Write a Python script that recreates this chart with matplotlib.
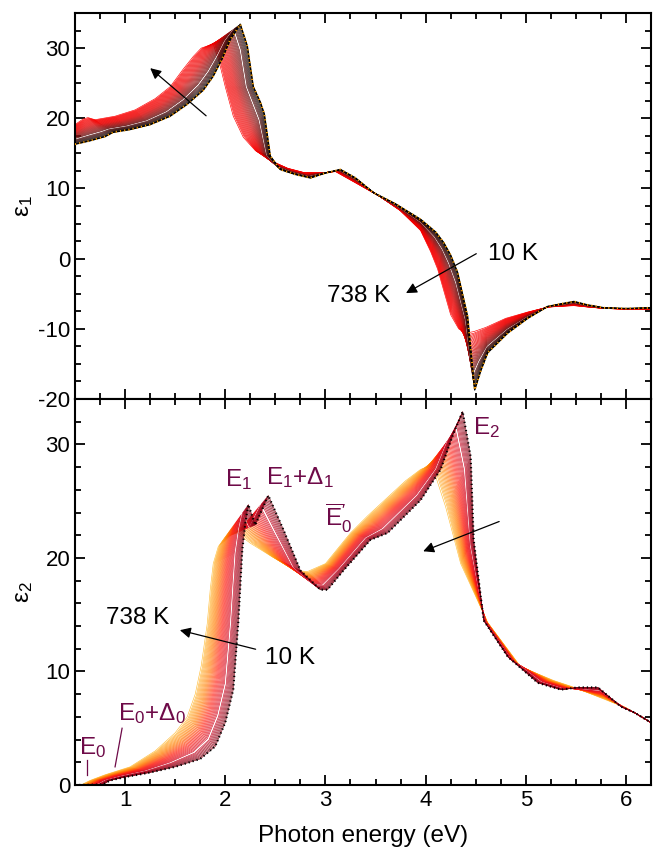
import numpy as np
import matplotlib
matplotlib.use('Agg')
import matplotlib.pyplot as plt
from matplotlib.colors import LinearSegmentedColormap
from matplotlib.ticker import MultipleLocator

plt.rcParams['font.family'] = ['Liberation Sans', 'DejaVu Sans']
plt.rcParams['mathtext.fontset'] = 'custom'
plt.rcParams['mathtext.rm'] = 'Liberation Sans'
plt.rcParams['mathtext.it'] = 'Liberation Sans:italic'
plt.rcParams['axes.unicode_minus'] = False

# temperatures (K)
temps = [10, 30, 50, 70, 90, 110, 130, 150, 170, 190, 210, 230, 250, 270, 290,
         310, 330, 350, 370, 390, 410, 430, 450, 470, 490, 510, 530, 550, 570,
         590, 610, 630, 650, 670, 690, 710, 738]

# eps1, 10 K  (matched feature points with the 738 K curve)
e1_E_10 = [0.50, 0.65, 0.80, 0.88, 1.05, 1.25, 1.45, 1.62, 1.78, 1.88, 1.97, 2.05,
           2.15, 2.22, 2.28, 2.35, 2.39, 2.45, 2.55, 2.70, 2.85, 3.00, 3.15, 3.30,
           3.48, 3.70, 3.95, 4.10, 4.18, 4.25, 4.32, 4.42, 4.49, 4.55, 4.62, 4.82,
           5.02, 5.22, 5.48, 5.62, 5.78, 6.00, 6.25]
e1_v_10 = [16.3, 16.8, 17.4, 18.0, 18.4, 19.1, 20.3, 22.0, 24.0, 26.0, 28.5, 31.2,
           33.4, 30.3, 24.5, 22.3, 20.6, 14.6, 12.7, 12.0, 11.5, 12.2, 12.7, 11.5,
           9.4, 7.8, 5.6, 3.8, 2.3, 0.5, -2.0, -8.3, -18.7, -16.0, -13.4, -10.6,
           -8.5, -6.8, -6.1, -6.6, -7.0, -7.1, -7.0]
# eps1, 738 K
e1_E_738 = [0.50, 0.58, 0.63, 0.70, 0.90, 1.10, 1.30, 1.45, 1.58, 1.68, 1.76, 1.82,
            1.88, 1.94, 2.00, 2.08, 2.18, 2.30, 2.45, 2.62, 2.78, 2.95, 3.10, 3.30,
            3.55, 3.75, 3.95, 4.05, 4.12, 4.18, 4.25, 4.33, 4.40, 4.48, 4.60, 4.80,
            5.02, 5.22, 5.48, 5.62, 5.78, 6.00, 6.25]
e1_v_738 = [19.1, 19.9, 20.1, 19.8, 20.3, 21.2, 22.8, 24.5, 27.0, 28.8, 30.0, 30.3,
            30.6, 28.0, 24.5, 20.3, 17.3, 15.4, 14.0, 12.9, 12.3, 12.2, 12.4, 10.8,
            8.8, 6.8, 4.0, 1.0, -1.5, -4.5, -8.0, -10.0, -10.6, -10.4, -9.8, -8.5,
            -7.6, -6.9, -6.7, -6.9, -7.1, -7.2, -7.2]

# eps2, 10 K
e2_E_10 = [0.50, 0.78, 0.85, 1.00, 1.25, 1.50, 1.75, 1.90, 2.00, 2.08, 2.13, 2.15,
           2.17, 2.20, 2.23, 2.30, 2.43, 2.58, 2.75, 2.95, 3.02, 3.18, 3.45, 3.62,
           3.95, 4.15, 4.28, 4.37, 4.45, 4.48, 4.58, 4.82, 5.12, 5.35, 5.52, 5.72,
           5.95, 6.08, 6.25]
e2_v_10 = [0.0, 0.05, 0.4, 0.7, 1.1, 1.6, 2.3, 3.4, 5.5, 8.4, 14.3, 17.5,
           20.7, 23.0, 24.7, 22.9, 25.5, 22.5, 18.9, 17.2, 17.2, 18.9, 21.6, 22.2,
           25.1, 27.8, 31.0, 32.9, 28.9, 21.6, 14.5, 11.3, 9.0, 8.4, 8.6, 8.6,
           6.9, 6.4, 5.5]
# eps2, 738 K
e2_E_738 = [0.50, 0.57, 0.65, 0.80, 1.05, 1.30, 1.50, 1.62, 1.70, 1.76, 1.82, 1.85,
            1.88, 1.93, 1.98, 2.05, 2.12, 2.25, 2.45, 2.70, 2.82, 3.00, 3.25, 3.42,
            3.80, 3.95, 4.02, 4.10, 4.20, 4.35, 4.62, 4.95, 5.28, 5.45, 5.60, 5.80,
            6.00, 6.10, 6.25]
e2_v_738 = [0.0, 0.05, 0.4, 0.9, 1.6, 3.0, 4.6, 6.0, 8.0, 10.5, 14.2, 17.2,
            19.5, 21.0, 21.6, 22.0, 22.2, 21.3, 20.2, 18.9, 18.8, 19.5, 22.2, 23.7,
            26.8, 27.8, 28.0, 27.2, 24.5, 19.5, 14.3, 10.4, 9.2, 8.7, 8.2, 7.5,
            6.8, 6.3, 5.5]

label_col = '#6e0a48'
fs = 17.5

cm1 = LinearSegmentedColormap.from_list('k2r', ['#000000', '#7a1010', '#e80000', '#ff0000'])
cm2 = LinearSegmentedColormap.from_list('r2o', ['#7a0012', '#d0102a', '#ff1a10', '#ff7a00', '#ffc040'])

fig = plt.figure(figsize=(6.55, 8.57), dpi=100)
ax1 = fig.add_axes([0.1145, 0.5344, 0.8794, 0.4504])
ax2 = fig.add_axes([0.1145, 0.0840, 0.8794, 0.4504])


def family(ax, E10, v10, E738, v738, cmap):
    E10, v10 = np.array(E10), np.array(v10)
    E738, v738 = np.array(E738), np.array(v738)
    for T in temps[::-1]:
        f = (T - temps[0]) / (temps[-1] - temps[0])
        x = E10 + f * (E738 - E10)
        y = v10 + f * (v738 - v10)
        c = 'white' if T == 190 else cmap(f)
        ax.plot(x, y, color=c, lw=0.45, zorder=2)


family(ax1, e1_E_10, e1_v_10, e1_E_738, e1_v_738, cm1)
ax1.plot(e1_E_10, e1_v_10, color='black', lw=1.0, zorder=3)
ax1.plot(e1_E_10, e1_v_10, color='#ffa000', lw=1.4, ls=(0, (0.6, 1.6)), zorder=4)

family(ax2, e2_E_10, e2_v_10, e2_E_738, e2_v_738, cm2)
ax2.plot(e2_E_10, e2_v_10, color='black', lw=1.5, ls=(0, (0.6, 1.4)), zorder=4)

for ax in (ax1, ax2):
    ax.set_xlim(0.5, 6.25)
    ax.xaxis.set_major_locator(MultipleLocator(1))
    ax.xaxis.set_minor_locator(MultipleLocator(0.25))
    ax.tick_params(which='both', direction='in', top=True, right=True, width=1.3,
                   labelsize=16)
    ax.tick_params(which='major', length=7)
    ax.tick_params(which='minor', length=4)
    for s in ax.spines.values():
        s.set_linewidth(1.5)
    ax.yaxis.set_label_coords(-0.07, 0.5)

ax1.set_ylim(-20, 35)
ax1.yaxis.set_major_locator(MultipleLocator(10))
ax1.yaxis.set_minor_locator(MultipleLocator(2.5))
ax1.tick_params(labelbottom=False)
ax1.set_ylabel('ε$_1$', fontsize=fs)

ax2.set_ylim(0, 34)
ax2.yaxis.set_major_locator(MultipleLocator(10))
ax2.yaxis.set_minor_locator(MultipleLocator(2))
ax2.set_ylabel('ε$_2$', fontsize=fs)
ax2.set_xlabel('Photon energy (eV)', fontsize=fs, labelpad=10)

arw = dict(arrowstyle='-|>', color='black', lw=0.9, mutation_scale=16)

# top panel annotations
ax1.annotate('', xy=(1.23, 27.4), xytext=(1.83, 20.1), arrowprops=arw, zorder=6)
ax1.annotate('', xy=(3.78, -5.1), xytext=(4.53, 0.9), arrowprops=arw, zorder=6)
ax1.text(4.62, 0.7, '10 K', fontsize=fs, va='center', ha='left')
ax1.text(3.65, -5.3, '738 K', fontsize=fs, va='center', ha='right')

# bottom panel annotations
ax2.annotate('', xy=(1.52, 13.7), xytext=(2.33, 11.9), arrowprops=arw, zorder=6)
ax2.annotate('', xy=(3.95, 20.5), xytext=(4.76, 23.3), arrowprops=arw, zorder=6)
ax2.text(1.13, 14.7, '738 K', fontsize=fs, va='center', ha='center')
ax2.text(2.65, 11.2, '10 K', fontsize=fs, va='center', ha='center')

ax2.text(2.13, 26.9, 'E$_1$', color=label_col, fontsize=fs, ha='center', va='center')
ax2.text(2.41, 27.1, 'E$_1$+Δ$_1$', color=label_col, fontsize=fs, ha='left', va='center')
ax2.text(3.13, 23.5, r"$\overline{\mathrm{E}}^{\prime}_{0}$", color=label_col, fontsize=fs,
         ha='center', va='center')
ax2.text(4.47, 31.5, 'E$_2$', color=label_col, fontsize=fs, ha='left', va='center')
ax2.text(0.68, 3.3, 'E$_0$', color=label_col, fontsize=fs, ha='center', va='center')
ax2.text(0.93, 6.3, 'E$_0$+Δ$_0$', color=label_col, fontsize=fs, ha='left', va='center')
ax2.plot([0.62, 0.62], [2.2, 0.9], color=label_col, lw=0.9, zorder=6)
ax2.plot([0.97, 0.90], [5.0, 1.6], color=label_col, lw=0.9, zorder=6)

fig.savefig('out.png', dpi=100)
